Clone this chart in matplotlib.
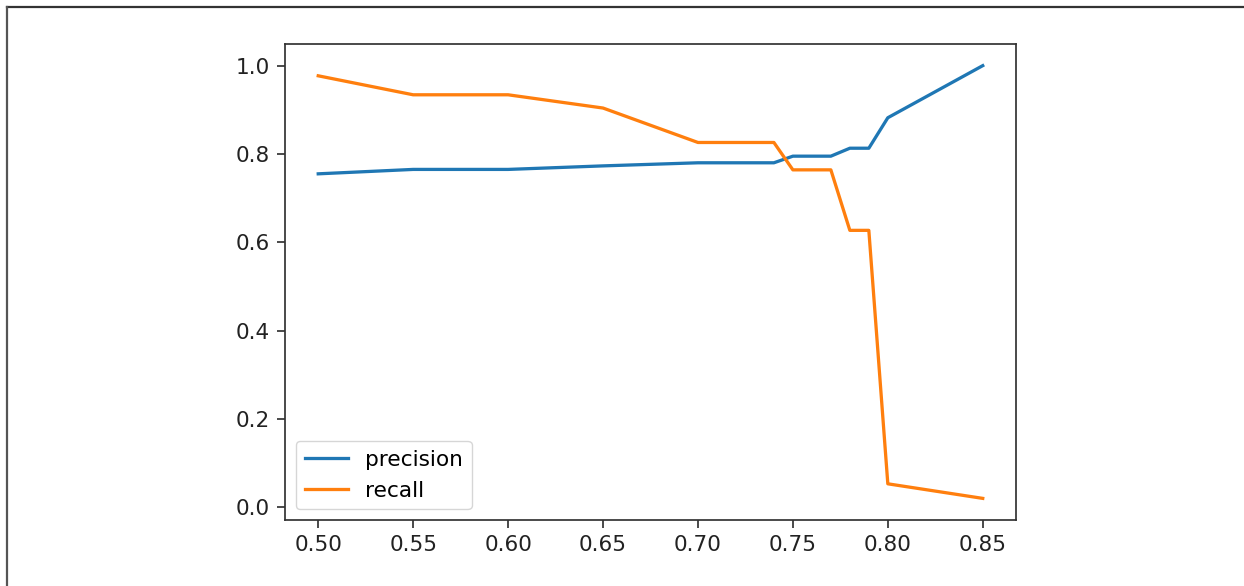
import matplotlib
matplotlib.use("Agg")
import matplotlib.pyplot as plt
from matplotlib.lines import Line2D

thresholds = [0.50, 0.55, 0.60, 0.65, 0.70, 0.74, 0.75, 0.77, 0.78, 0.79, 0.80, 0.85]
precision = [0.755, 0.765, 0.765, 0.773, 0.780, 0.780, 0.795, 0.795, 0.813, 0.813, 0.882, 1.000]
recall = [0.977, 0.934, 0.934, 0.904, 0.826, 0.826, 0.764, 0.764, 0.627, 0.627, 0.053, 0.020]

fs = 15.6
fig = plt.figure(figsize=(12.44, 5.86), dpi=100)
ax = fig.add_axes([0.2291, 0.1126, 0.8167 - 0.2291, 0.9249 - 0.1126])
ax.plot(thresholds, precision, color="#1f77b4", lw=2.35, label="precision")
ax.plot(thresholds, recall, color="#ff7f0e", lw=2.35, label="recall")
ax.set_xticks([0.50, 0.55, 0.60, 0.65, 0.70, 0.75, 0.80, 0.85])
ax.set_xticklabels(["0.50", "0.55", "0.60", "0.65", "0.70", "0.75", "0.80", "0.85"])
ax.set_yticks([0.0, 0.2, 0.4, 0.6, 0.8, 1.0])
ax.set_yticklabels(["0.0", "0.2", "0.4", "0.6", "0.8", "1.0"])
ax.tick_params(labelsize=fs, length=5.5, width=1.25, pad=5.5,
               colors="#333333", labelcolor="#222222")
for s in ax.spines.values():
    s.set_linewidth(1.25)
    s.set_color("#333333")
ax.legend(loc="lower left", fontsize=fs, handlelength=2.0)

# screenshot frame (top and left edges)
fig.add_artist(Line2D([7 / 1244, 1.0], [1 - 6.5 / 586] * 2, color="#333333", lw=1.6,
                      transform=fig.transFigure))
fig.add_artist(Line2D([7 / 1244] * 2, [0.0, 1 - 6.5 / 586], color="#555555", lw=1.6,
                      transform=fig.transFigure))

fig.savefig("out.png", dpi=100)
